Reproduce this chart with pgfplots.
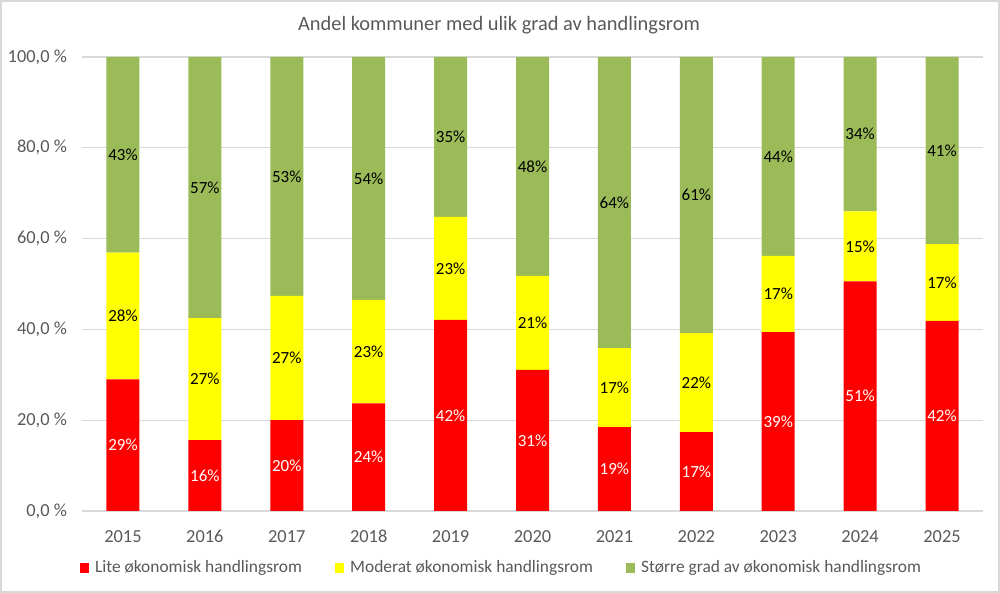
\documentclass[border=0pt]{standalone}
\usepackage{pgfplots}
\pgfplotsset{compat=1.18}
\usepackage{pgfplotstable}
\usepackage{fontspec}
\setmainfont{Carlito}
\definecolor{cred}{HTML}{FF0000}
\definecolor{cyel}{HTML}{FFFF00}
\definecolor{cgrn}{HTML}{9BBB59}
\definecolor{txtgray}{HTML}{595959}
\definecolor{gridgray}{HTML}{D9D9D9}
\pgfplotstableread{
x r y g rl yl gl
0 29.0 27.9 43.1 29 28 43
1 15.6 26.9 57.5 16 27 57
2 20.0 27.4 52.6 20 27 53
3 23.7 22.8 53.5 24 23 54
4 42.1 22.7 35.2 42 23 35
5 31.1 20.7 48.2 31 21 48
6 18.5 17.4 64.1 19 17 64
7 17.4 21.8 60.8 17 22 61
8 39.4 16.8 43.8 39 17 44
9 50.6 15.4 34.0 51 15 34
10 41.9 16.9 41.2 42 17 41
}\datatable
\begin{document}
\begin{tikzpicture}
\useasboundingbox (0pt,0pt) rectangle (500pt,296.5pt);
\draw[black!15, line width=1pt] (0.5pt,0.5pt) rectangle (499.5pt,296pt);
\node[text=txtgray, font=\fontsize{10.2}{12}\selectfont] at (249.5pt,284pt) {Andel kommuner med ulik grad av handlingsrom};
\pgfplotsset{myax/.style={
  scale only axis, width=450.5pt, height=227pt,
  at={(41pt,41pt)}, anchor=south west,
  xmin=-0.5, xmax=10.5, ymin=0, ymax=100,
}}
\begin{axis}[myax,
  ybar stacked, bar width=16.5pt,
  axis line style={draw=none},
  major tick length=0pt,
  ymajorgrids, grid style={gridgray, line width=0.6pt},
  xtick={0,...,10},
  xticklabels={2015,2016,2017,2018,2019,2020,2021,2022,2023,2024,2025},
  ytick={0,20,40,60,80,100},
  yticklabels={{0,0 \%},{20,0 \%},{40,0 \%},{60,0 \%},{80,0 \%},{100,0 \%}},
  /pgf/number format/assume math mode=true,
  tick label style={text=txtgray, font=\fontsize{9.2}{11}\selectfont},
  xticklabel style={yshift=-6pt},
  yticklabel style={xshift=-4pt},
  legend columns=3,
  legend style={draw=none, at={(0.4667,-0.1256)}, anchor=center,
    font=\fontsize{8.7}{10}\selectfont, text=txtgray,
    /tikz/every odd column/.append style={column sep=1pt},
    /tikz/every even column/.append style={column sep=14.5pt}},
  legend image code/.code={\path[#1,draw=none] (0pt,-2.3pt) rectangle (4.6pt,2.3pt);},
]
\addplot[fill=cred, draw=none] table[x=x, y=r] {\datatable};
\addlegendentry{Lite økonomisk handlingsrom}
\addplot[fill=cyel, draw=none] table[x=x, y=y] {\datatable};
\addlegendentry{Moderat økonomisk handlingsrom}
\addplot[fill=cgrn, draw=none] table[x=x, y=g] {\datatable};
\addlegendentry{Større grad av økonomisk handlingsrom}
\end{axis}
\begin{axis}[myax, hide axis,
  nodes near coords={\pgfplotspointmeta\%},
  point meta=explicit symbolic,
  every node near coord/.append style={anchor=center, font=\fontsize{8.5}{10}\selectfont},
]
\addplot[draw=none, mark=none, nodes near coords style={text=white}] table[x=x, y expr=\thisrow{r}/2, meta=rl] {\datatable};
\addplot[draw=none, mark=none, nodes near coords style={text=black}] table[x=x, y expr=\thisrow{r}+\thisrow{y}/2, meta=yl] {\datatable};
\addplot[draw=none, mark=none, nodes near coords style={text=black}] table[x=x, y expr=\thisrow{r}+\thisrow{y}+\thisrow{g}/2, meta=gl] {\datatable};
\end{axis}
\end{tikzpicture}
\end{document}
